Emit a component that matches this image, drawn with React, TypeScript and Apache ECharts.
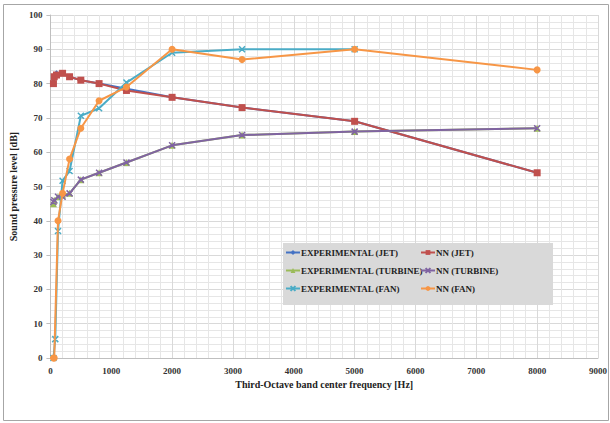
import React, { useEffect, useRef } from "react";
import * as echarts from "echarts";

const xTicks = [0, 1000, 2000, 3000, 4000, 5000, 6000, 7000, 8000, 9000];
const yTicks = [0, 10, 20, 30, 40, 50, 60, 70, 80, 90, 100];

const seriesNames = [
  "EXPERIMENTAL (JET)",
  "NN (JET)",
  "EXPERIMENTAL (TURBINE)",
  "NN (TURBINE)",
  "EXPERIMENTAL (FAN)",
  "NN (FAN)",
];

const expJetFreq = [50, 80, 100, 200, 315, 500, 800, 1250, 2000, 3150, 5000, 8000];
const expJetVal = [80.5, 82.5, 83, 83, 82, 81, 80, 78.5, 76, 73, 69, 54];

const nnJetFreq = [50, 63, 100, 200, 315, 500, 800, 1250, 2000, 3150, 5000, 8000];
const nnJetVal = [80, 82, 82.5, 83, 82, 81, 80, 78, 76, 73, 69, 54];

const expTurbFreq = [50, 63, 125, 200, 315, 500, 800, 1250, 2000, 3150, 5000, 8000];
const expTurbVal = [45, 46, 47, 47.5, 48, 52, 54, 57, 62, 65, 66, 67];

const nnTurbFreq = [50, 63, 125, 200, 315, 500, 800, 1250, 2000, 3150, 5000, 8000];
const nnTurbVal = [45.5, 46, 47, 47, 48, 52, 54, 57, 62, 65, 66, 67];

const expFanFreq = [50, 80, 125, 200, 315, 500, 800, 1250, 2000, 3150, 5000];
const expFanVal = [0, 5.5, 37, 51.7, 54.5, 70.6, 72.8, 80.3, 89, 90, 90];

const nnFanFreq = [50, 63, 125, 200, 315, 500, 800, 1250, 2000, 3150, 5000, 8000];
const nnFanVal = [0, 0, 40, 48, 58, 67, 75, 79, 90, 87, 90, 84];

const colors = ["#4472C4", "#C0504D", "#9BBB59", "#8064A2", "#4BACC6", "#F79646"];

const FONT = "'Liberation Serif', 'DejaVu Serif', serif";

const X_SYMBOL = "path://M0,0L10,10L10,10L0,0M10,0L0,10L0,10L10,0Z";

function pairs(f: number[], v: number[]) {
  return f.map((x, i) => [x, v[i]]);
}

export default function App() {
  const ref = useRef<HTMLDivElement>(null);
  useEffect(() => {
    if (!ref.current) return;
    const chart = echarts.init(ref.current, undefined, { renderer: "svg" });
    const mk = (
      i: number,
      f: number[],
      v: number[],
      symbol: string,
      size: number,
      stroke: boolean
    ) => ({
      name: seriesNames[i],
      type: "line",
      data: pairs(f, v),
      symbol,
      symbolSize: size,
      showAllSymbol: true,
      lineStyle: { color: colors[i], width: 2 },
      itemStyle: stroke
        ? { color: colors[i], borderColor: colors[i], borderWidth: 1.5 }
        : { color: colors[i], borderWidth: 0 },
      z: 2 + i,
    });
    const legendText = {
      fontFamily: FONT,
      fontWeight: "bold",
      fontSize: 9,
      color: "#222",
      padding: [0, 0, 0, -4],
    };
    chart.setOption({
      animation: false,
      backgroundColor: "#ffffff",
      textStyle: { fontFamily: FONT },
      graphic: [
        {
          type: "rect",
          shape: { x: 3.5, y: 4.5, width: 605, height: 416 },
          style: { fill: "none", stroke: "#a6a6a6", lineWidth: 1 },
          z: -10,
        },
        {
          type: "rect",
          shape: { x: 283, y: 243, width: 270, height: 62 },
          style: { fill: "#d9d9d9", stroke: "none" },
          z: 50,
        },
      ],
      grid: { left: 46, right: 12, top: 15, bottom: 65 },
      xAxis: {
        type: "value",
        min: 0,
        max: 9000,
        interval: 1000,
        name: "Third-Octave band center frequency [Hz]",
        nameLocation: "middle",
        nameGap: 19,
        nameTextStyle: { fontFamily: FONT, fontWeight: "bold", fontSize: 10, color: "#222" },
        axisLine: { show: true, lineStyle: { color: "#bfbfbf" } },
        axisTick: { show: false },
        axisLabel: {
          fontFamily: FONT,
          fontWeight: "bold",
          fontSize: 9,
          color: "#333",
          margin: 8,
          formatter: (v: number) => (xTicks.indexOf(v) >= 0 ? String(v) : ""),
        },
        splitLine: { show: true, lineStyle: { color: "#d9d9d9", width: 1 } },
        minorTick: { show: false, splitNumber: 5 },
        minorSplitLine: { show: true, lineStyle: { color: "#e6e6e6", width: 1 } },
      },
      yAxis: {
        type: "value",
        min: 0,
        max: 100,
        interval: 10,
        name: "Sound pressure level [dB]",
        nameLocation: "middle",
        nameGap: 30,
        nameRotate: 90,
        nameTextStyle: { fontFamily: FONT, fontWeight: "bold", fontSize: 10, color: "#222" },
        axisLine: { show: true, lineStyle: { color: "#bfbfbf" } },
        axisTick: { show: true, length: 4, lineStyle: { color: "#bfbfbf" } },
        axisLabel: {
          fontFamily: FONT,
          fontWeight: "bold",
          fontSize: 9,
          color: "#333",
          margin: 8,
          formatter: (v: number) => (yTicks.indexOf(v) >= 0 ? String(v) : ""),
        },
        splitLine: { show: true, lineStyle: { color: "#d9d9d9", width: 1 } },
        minorTick: { show: false, splitNumber: 5 },
        minorSplitLine: { show: true, lineStyle: { color: "#e6e6e6", width: 1 } },
      },
      legend: [
        {
          orient: "vertical",
          left: 285,
          top: 248,
          itemGap: 9,
          itemWidth: 14,
          itemHeight: 6,
          padding: 0,
          z: 60,
          data: [seriesNames[0], seriesNames[2], seriesNames[4]],
          textStyle: legendText,
        },
        {
          orient: "vertical",
          left: 420,
          top: 248,
          itemGap: 9,
          itemWidth: 14,
          itemHeight: 6,
          padding: 0,
          z: 60,
          data: [seriesNames[1], seriesNames[3], seriesNames[5]],
          textStyle: legendText,
        },
      ],
      series: [
        mk(0, expJetFreq, expJetVal, "diamond", 6, false),
        mk(1, nnJetFreq, nnJetVal, "rect", 7, false),
        mk(2, expTurbFreq, expTurbVal, "triangle", 7, false),
        mk(3, nnTurbFreq, nnTurbVal, X_SYMBOL, 6, true),
        mk(4, expFanFreq, expFanVal, X_SYMBOL, 6, true),
        mk(5, nnFanFreq, nnFanVal, "circle", 7, false),
      ],
    });
    return () => chart.dispose();
  }, []);
  return (
    <div
      ref={ref}
      style={{ position: "fixed", left: 0, top: 0, width: 610, height: 423 }}
    />
  );
}
